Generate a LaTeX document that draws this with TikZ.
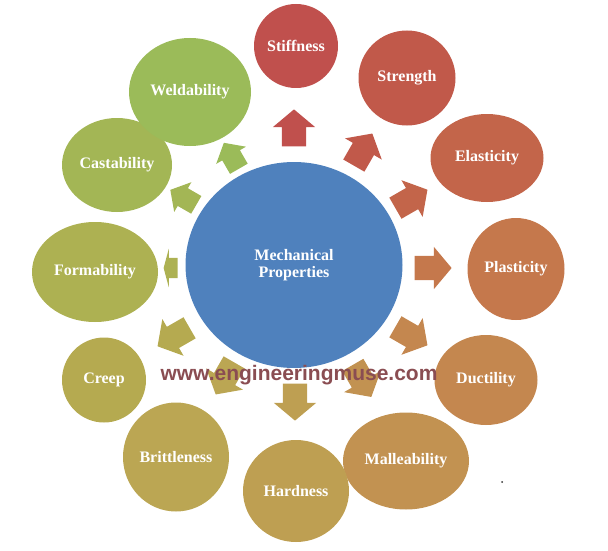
\documentclass[tikz,border=0pt]{standalone}
\usepackage{fontspec}
\setmainfont{Liberation Serif}
\newfontfamily\webfont{Liberation Sans}
\usetikzlibrary{shapes.geometric,shapes.arrows}

\definecolor{cMech}{HTML}{4F81BD}
\definecolor{cStiff}{HTML}{C0504D}
\definecolor{cStren}{HTML}{C1594A}
\definecolor{cElast}{HTML}{C3654A}
\definecolor{cPlast}{HTML}{C5784C}
\definecolor{cDuct}{HTML}{C4874F}
\definecolor{cMall}{HTML}{C29251}
\definecolor{cHard}{HTML}{BE9F52}
\definecolor{cBritt}{HTML}{BBA653}
\definecolor{cCreep}{HTML}{B5AA50}
\definecolor{cForm}{HTML}{ADB152}
\definecolor{cCast}{HTML}{A3B655}
\definecolor{cWeld}{HTML}{9BBB59}
\definecolor{cWeb}{HTML}{8A4D52}

\begin{document}
\begin{tikzpicture}[x=1pt,y=-1pt,
  prop/.style={ellipse,fill=#1,text=white,inner sep=0pt,
    font=\bfseries\fontsize{16}{17}\selectfont},
  blk/.style={single arrow,fill=#1,inner xsep=0pt,inner ysep=12pt,minimum height=37pt,
    minimum width=42pt,single arrow head extend=9pt,single arrow tip angle=100},
  blksmall/.style={blk=#1,inner ysep=10pt,minimum height=30pt,minimum width=34pt,
    single arrow head extend=7pt}]
\useasboundingbox (0,0) rectangle (608,551);

%centre
\node[prop=cMech,minimum width=217pt,minimum height=206pt,align=center] (mech) at (294,265) {Mechanical\\Properties};

%properties
\node[prop=cStiff,minimum width=84pt,minimum height=84pt] (stiff) at (296,46) {Stiffness};
\node[prop=cStren,minimum width=97pt,minimum height=95pt] (stren) at (407,78) {Strength};
\node[prop=cElast,minimum width=113pt,minimum height=88pt] (elast) at (487,158) {Elasticity};
\node[prop=cPlast,minimum width=97pt,minimum height=102pt] (plast) at (516,269) {Plasticity};
\node[prop=cDuct,minimum width=103pt,minimum height=90pt] (duct) at (486,380) {Ductility};
\node[prop=cMall,minimum width=126pt,minimum height=97pt] (mall) at (406,461) {Malleability};
\node[prop=cHard,minimum width=106pt,minimum height=102pt] (hard) at (296,491) {Hardness};
\node[prop=cBritt,minimum width=106pt,minimum height=109pt] (britt) at (176,457) {Brittleness};
\node[prop=cCreep,minimum width=84pt,minimum height=85pt] (creep) at (104,380) {Creep};
\node[prop=cForm,minimum width=126pt,minimum height=100pt] (form) at (95,272) {Formability};
\node[prop=cCast,minimum width=110pt,minimum height=94pt] (cast) at (117,165) {Castability};
\node[prop=cWeld,minimum width=122pt,minimum height=108pt] (weld) at (190,92) {Weldability};

%arrows
\node[blk=cStiff,rotate=90] (aStiff) at (294,133) {};
\node[blk=cStren,rotate=60] (aStren) at (360.5,154) {};
\node[blk=cElast,rotate=30] (aElast) at (407,201.5) {};
\node[blk=cPlast,rotate=0] (aPlast) at (428,268) {};
\node[blk=cDuct,rotate=-30] (aDuct) at (407,333.5) {};
\node[blk=cMall,rotate=-60] (aMall) at (359.5,376.5) {};
\node[blk=cHard,rotate=-90] (aHard) at (295,397) {};
\node[blk=cBritt,rotate=-120] (aBritt) at (227.5,374) {};
\node[blk=cCreep,rotate=-150] (aCreep) at (178,334.5) {};
\node[blk=cForm,rotate=180,inner ysep=10pt,minimum height=14pt,minimum width=38pt,
  single arrow head extend=9pt,single arrow tip angle=150] (aForm) at (172,268) {};
\node[blksmall=cCast,rotate=150] (aCast) at (187,199.5) {};
\node[blksmall=cWeld,rotate=120] (aWeld) at (233.5,159.5) {};

%web address
\node[text=cWeb,font=\webfont\bfseries\fontsize{21}{21}\selectfont] (web) at (299,375) {www.engineeringmuse.com};

%dot
\fill[black!80] (502,482) circle (1pt);
\end{tikzpicture}
\end{document}
